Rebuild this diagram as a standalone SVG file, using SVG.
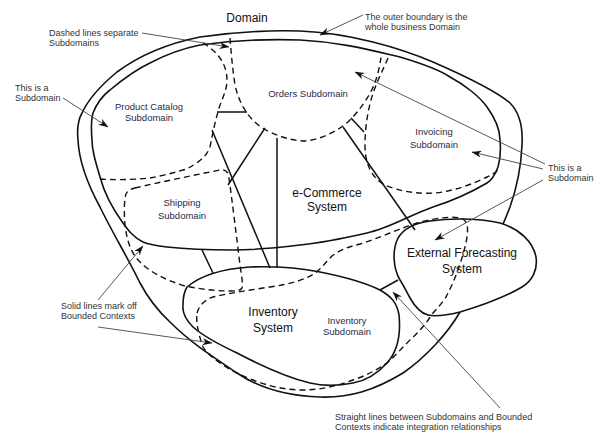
<svg xmlns="http://www.w3.org/2000/svg" width="604" height="437" viewBox="0 0 604 437">
<style>
.bc{fill:none;stroke:#111;stroke-width:1.6;stroke-linejoin:round}
.sd{fill:none;stroke:#111;stroke-width:1.4;stroke-dasharray:6 4}
.ln{fill:none;stroke:#111;stroke-width:1.5}
.an{fill:none;stroke:#444;stroke-width:0.9;marker-end:url(#ah)}
.lab{font-family:"Liberation Sans",Arial,sans-serif;fill:#111;text-anchor:middle}
.big{font-size:12px}
.sub{font-size:9.5px;fill:#2a2a48}
.note{font-family:"Liberation Sans",Arial,sans-serif;font-size:9px;fill:#333}
</style>
<defs>
<marker id="ah" viewBox="0 0 10 7" refX="9.5" refY="3.5" markerWidth="10" markerHeight="7" markerUnits="userSpaceOnUse" orient="auto">
<path d="M0,0 L10,3.5 L0,7 L3,3.5 z" fill="#111"/>
</marker>
</defs>
<rect width="604" height="437" fill="#fff"/>

<g id="domain">
<path class="bc" d="M300,31 C350,33 400,48 433,62 C465,76 495,90 510,103 C520,113 523,128 522,145 C521,170 516,190 510,207 C505,220 500,232 495,240 C485,262 470,295 460,312 C448,333 425,358 403,373 C375,390 350,398 320,397 C290,396 262,390 237,373 C210,355 190,342 170,322 C157,310 148,298 140,283 C128,258 112,232 100,207 C88,185 79,162 78,140 C77,130 78,120 82,113 C88,100 100,86 117,72 C140,55 170,43 200,37 C235,32 265,30 300,31 Z"/>
<text class="lab big" x="247" y="22">Domain</text>
</g>

<g id="ecommerce-system">
<path class="bc" d="M300,40 C340,42 370,50 400,57 C420,63 440,70 450,77 C465,85 480,97 487,107 C495,118 500,130 500,140 C501,150 500,160 498,167 C495,175 492,180 487,183 C470,193 455,200 433,207 C410,215 390,228 367,233 C345,238 320,243 300,245 C275,248 255,250 233,250 C210,250 185,249 167,247 C158,246 150,245 143,242 C133,237 128,230 123,223 C112,208 104,192 100,177 C95,160 92,150 92,140 C91,128 91,120 93,113 C97,103 102,96 110,90 C122,80 135,70 150,63 C165,55 180,49 200,45 C235,40 270,39 300,40 Z"/>
<text class="lab big" x="327" y="197">e-Commerce</text>
<text class="lab big" x="327" y="211">System</text>
</g>

<g id="inventory-system">
<path class="bc" d="M187,287 C200,276 220,269 250,267 C280,266 300,268 320,272 C345,277 368,284 380,290 C392,297 397,303 399,315 C401,335 397,352 387,363 C377,374 365,381 353,383 C338,386 322,386 310,383 C285,377 260,365 237,353 C220,345 203,336 193,327 C186,320 182,313 183,305 C183,298 184,292 187,287 Z"/>
<text class="lab big" x="273" y="316">Inventory</text>
<text class="lab big" x="273" y="332">System</text>
</g>

<g id="external-forecasting-system">
<path class="bc" fill="#fff" style="fill:#fff" d="M400,280 C393,268 392,250 398,238 C404,228 415,223 430,221 C450,218 480,218 500,223 C520,229 533,242 536,257 C538,270 532,281 522,287 C505,297 480,306 460,312 C448,315 436,317 428,315 C420,313 414,305 410,298 C406,291 404,286 400,280 Z"/>
<text class="lab big" x="462" y="257">External Forecasting</text>
<text class="lab big" x="462" y="273">System</text>
</g>

<g id="product-catalog-subdomain">
<path class="sd" d="M203,43 C215,50 227,62 227,80 C227,92 220,102 218,112 C215,122 213,132 210,147 C207,155 203,158 198,162 C192,166 188,169 183,170 C170,174 160,176 150,178 C130,180 112,180 100,179"/>
<text class="lab sub" x="149" y="110">Product Catalog</text>
<text class="lab sub" x="149" y="121">Subdomain</text>
</g>

<g id="orders-subdomain">
<path class="sd" d="M230,38 C231,50 232,65 235,85 C238,98 242,106 247,113 C252,120 260,128 270,132 C283,138 295,141 305,141 C320,140 340,130 350,120 C360,110 370,95 374,85 C378,75 380,65 381,57"/>
<text class="lab sub" x="308" y="97">Orders Subdomain</text>
</g>

<g id="invoicing-subdomain">
<path class="sd" d="M388,58 C383,70 375,85 371,100 C367,115 365,130 365,145 C365,165 372,178 385,185 C400,192 420,194 435,193 C455,191 475,183 487,177 C492,175 495,173 498,170"/>
<text class="lab sub" x="434" y="135">Invoicing</text>
<text class="lab sub" x="434" y="148">Subdomain</text>
</g>

<g id="shipping-subdomain">
<path class="sd" d="M135,188 C160,182 200,174 220,170 C226,169 228,172 229,178 C232,200 237,240 240,265 C242,278 243,285 242,288 C240,291 236,291 230,291 C215,291 200,289 185,286 C165,280 150,272 140,262 C130,252 127,240 125,225 C124,212 124,200 126,194 C128,190 131,189 135,188 Z"/>
<text class="lab sub" x="182" y="206">Shipping</text>
<text class="lab sub" x="182" y="219">Subdomain</text>
</g>

<g id="inventory-subdomain">
<path class="sd" d="M197,313 C199,306 204,300 213,297 C230,293 250,290 270,287 C290,284 305,280 315,273 C322,268 326,262 332,256 C340,250 348,247 360,244 C380,238 400,228 420,222 C440,217 455,216 463,219 C469,223 468,232 466,243 C462,260 455,280 447,295 C445,300 440,305 433,313 C425,325 418,333 410,340 C402,348 395,356 387,363 C375,371 365,376 353,380 C337,386 320,390 303,390 C285,390 268,386 253,380 C240,375 228,369 220,363 C212,357 206,352 203,347 C198,333 196,322 197,313 Z"/>
<text class="lab sub" x="347" y="324">Inventory</text>
<text class="lab sub" x="347" y="335">Subdomain</text>
</g>

<g id="connectors">
<line class="ln" x1="217" y1="112" x2="247" y2="112"/>
<line class="ln" x1="212" y1="130" x2="270" y2="268"/>
<line class="ln" x1="265" y1="128" x2="228" y2="185"/>
<line class="ln" x1="277" y1="138" x2="277" y2="268"/>
<line class="ln" x1="351" y1="118" x2="364" y2="132"/>
<line class="ln" x1="343" y1="127" x2="415" y2="230"/>
<line class="ln" x1="202" y1="250" x2="213" y2="273"/>
<line class="ln" x1="380" y1="290" x2="398" y2="280"/>
</g>

<g id="annotations">
<line class="an" x1="142" y1="33" x2="229" y2="47"/>
<line class="an" x1="363" y1="15" x2="320" y2="35"/>
<line class="an" x1="63" y1="98" x2="108" y2="127"/>
<line class="an" x1="545" y1="164" x2="355" y2="72"/>
<line class="an" x1="543" y1="169" x2="472" y2="152"/>
<line class="an" x1="543" y1="180" x2="435" y2="240"/>
<line class="an" x1="98" y1="300" x2="143" y2="246"/>
<line class="an" x1="98" y1="327" x2="212" y2="343"/>
<line class="an" x1="500" y1="408" x2="393" y2="292"/>
<text class="note" x="49" y="36">Dashed lines separate</text>
<text class="note" x="49" y="46">Subdomains</text>
<text class="note" x="365" y="20">The outer boundary is the</text>
<text class="note" x="365" y="30">whole business Domain</text>
<text class="note" x="15" y="91">This is a</text>
<text class="note" x="15" y="101">Subdomain</text>
<text class="note" x="548" y="171">This is a</text>
<text class="note" x="548" y="181">Subdomain</text>
<text class="note" x="61" y="309">Solid lines mark off</text>
<text class="note" x="61" y="319">Bounded Contexts</text>
<text class="note" x="335" y="420">Straight lines between Subdomains and Bounded</text>
<text class="note" x="335" y="430">Contexts indicate integration relationships</text>
</g>
</svg>
